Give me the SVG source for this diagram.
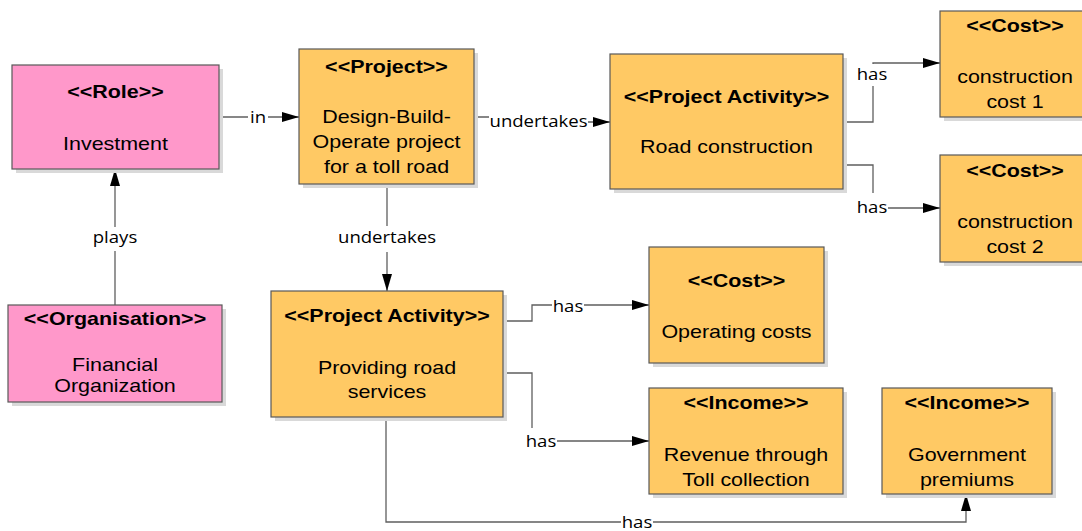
<svg xmlns="http://www.w3.org/2000/svg" width="1082" height="531" viewBox="0 0 1082 531">
  <style>
    .shadow { fill: #d9d9d9; }
    .box { stroke: #595959; stroke-width: 1.2; }
    .role { fill: #ff98ca; }
    .item { fill: #ffc964; }
    .st { font-family: "Liberation Sans", Arial, sans-serif; font-size: 18.5px; font-weight: bold; fill: #000; text-anchor: middle; }
    .tx { font-family: "Liberation Sans", Arial, sans-serif; font-size: 18.5px; fill: #000; text-anchor: middle; }
    .conn { fill: none; stroke: #5f5f5f; stroke-width: 1.3; }
    .lblbg { fill: #fff; }
    .lbl { font-family: "Open Sans", "Noto Sans", sans-serif; font-size: 16px; fill: #000; text-anchor: middle; }
  </style>
  <defs>
    <marker id="arrow" markerUnits="userSpaceOnUse" markerWidth="18" markerHeight="11" refX="17" refY="5" orient="auto">
      <path d="M0,0 L17,5 L0,10 z" fill="#000"/>
    </marker>
  </defs>
  <rect width="1082" height="531" fill="#fff"/>

  <!-- connectors -->
  <g id="connectors">
    <path class="conn" d="M219,117 H299" marker-end="url(#arrow)"/>
    <path class="conn" d="M115,305 V169" marker-end="url(#arrow)"/>
    <path class="conn" d="M474,117 H538 V122 H610" marker-end="url(#arrow)"/>
    <path class="conn" d="M387,184 V291" marker-end="url(#arrow)"/>
    <path class="conn" d="M843,122 H873 V63 H940" marker-end="url(#arrow)"/>
    <path class="conn" d="M843,165 H873 V208 H940" marker-end="url(#arrow)"/>
    <path class="conn" d="M503,321 H532 V305 H649" marker-end="url(#arrow)"/>
    <path class="conn" d="M503,373 H532 V441 H649" marker-end="url(#arrow)"/>
    <path class="conn" d="M386,417 V522 H966 V494" marker-end="url(#arrow)"/>

    <!-- labels -->
    <rect class="lblbg" x="248" y="108" width="20" height="18"/>
    <text class="lbl" transform="matrix(1.16 0 0 1 258 123)">in</text>
    <rect class="lblbg" x="105" y="227" width="21" height="24"/>
    <text class="lbl" transform="matrix(1.16 0 0 1 115 243)">plays</text>
    <rect class="lblbg" x="489" y="110" width="99" height="20"/>
    <text class="lbl" transform="matrix(1.16 0 0 1 538.5 127)">undertakes</text>
    <rect class="lblbg" x="337" y="226" width="100" height="26"/>
    <text class="lbl" transform="matrix(1.16 0 0 1 387 243)">undertakes</text>
    <rect class="lblbg" x="856" y="64" width="32" height="22"/>
    <text class="lbl" transform="matrix(1.16 0 0 1 872 80)">has</text>
    <rect class="lblbg" x="856" y="193" width="32" height="24"/>
    <text class="lbl" transform="matrix(1.16 0 0 1 872 213)">has</text>
    <rect class="lblbg" x="552" y="297" width="32" height="18"/>
    <text class="lbl" transform="matrix(1.16 0 0 1 568 312)">has</text>
    <rect class="lblbg" x="525" y="428" width="32" height="22"/>
    <text class="lbl" transform="matrix(1.16 0 0 1 541 447)">has</text>
    <rect class="lblbg" x="621" y="513" width="32" height="17"/>
    <text class="lbl" transform="matrix(1.16 0 0 1 637 527.5)">has</text>
  </g>

  <!-- Role: Investment -->
  <g id="role-investment">
    <rect class="shadow" x="16" y="69" width="207" height="104"/>
    <rect class="box role" x="12" y="65" width="207" height="104"/>
    <text class="st" transform="matrix(1.16 0 0 1 115.5 98)">&lt;&lt;Role&gt;&gt;</text>
    <text class="tx" transform="matrix(1.16 0 0 1 115.5 150)">Investment</text>
  </g>

  <!-- Organisation: Financial Organization -->
  <g id="org-financial">
    <rect class="shadow" x="12" y="309" width="214" height="97"/>
    <rect class="box role" x="8" y="305" width="214" height="97"/>
    <text class="st" transform="matrix(1.16 0 0 1 115 325)">&lt;&lt;Organisation&gt;&gt;</text>
    <text class="tx" transform="matrix(1.16 0 0 1 115 371)">Financial</text>
    <text class="tx" transform="matrix(1.16 0 0 1 115 392)">Organization</text>
  </g>

  <!-- Project -->
  <g id="project-dbo">
    <rect class="shadow" x="303" y="53" width="175" height="135"/>
    <rect class="box item" x="299" y="49" width="175" height="135"/>
    <text class="st" transform="matrix(1.16 0 0 1 386.5 73)">&lt;&lt;Project&gt;&gt;</text>
    <text class="tx" transform="matrix(1.16 0 0 1 386.5 123)">Design-Build-</text>
    <text class="tx" transform="matrix(1.16 0 0 1 386.5 148)">Operate project</text>
    <text class="tx" transform="matrix(1.16 0 0 1 386.5 173)">for a toll road</text>
  </g>

  <!-- Project Activity: Road construction -->
  <g id="activity-road-construction">
    <rect class="shadow" x="614" y="58" width="233" height="135"/>
    <rect class="box item" x="610" y="54" width="233" height="135"/>
    <text class="st" transform="matrix(1.16 0 0 1 726.5 103)">&lt;&lt;Project Activity&gt;&gt;</text>
    <text class="tx" transform="matrix(1.16 0 0 1 726.5 153)">Road construction</text>
  </g>

  <!-- Cost: construction cost 1 -->
  <g id="cost-construction-1">
    <rect class="shadow" x="944" y="15" width="150" height="106"/>
    <rect class="box item" x="940" y="11" width="150" height="106"/>
    <text class="st" transform="matrix(1.16 0 0 1 1015 32)">&lt;&lt;Cost&gt;&gt;</text>
    <text class="tx" transform="matrix(1.16 0 0 1 1015 83)">construction</text>
    <text class="tx" transform="matrix(1.16 0 0 1 1015 108)">cost 1</text>
  </g>

  <!-- Cost: construction cost 2 -->
  <g id="cost-construction-2">
    <rect class="shadow" x="944" y="159" width="150" height="107"/>
    <rect class="box item" x="940" y="155" width="150" height="107"/>
    <text class="st" transform="matrix(1.16 0 0 1 1015 177)">&lt;&lt;Cost&gt;&gt;</text>
    <text class="tx" transform="matrix(1.16 0 0 1 1015 228)">construction</text>
    <text class="tx" transform="matrix(1.16 0 0 1 1015 253)">cost 2</text>
  </g>

  <!-- Project Activity: Providing road services -->
  <g id="activity-road-services">
    <rect class="shadow" x="275" y="295" width="232" height="126"/>
    <rect class="box item" x="271" y="291" width="232" height="126"/>
    <text class="st" transform="matrix(1.16 0 0 1 387 322)">&lt;&lt;Project Activity&gt;&gt;</text>
    <text class="tx" transform="matrix(1.16 0 0 1 387 374)">Providing road</text>
    <text class="tx" transform="matrix(1.16 0 0 1 387 398)">services</text>
  </g>

  <!-- Cost: Operating costs -->
  <g id="cost-operating">
    <rect class="shadow" x="653" y="251" width="175" height="116"/>
    <rect class="box item" x="649" y="247" width="175" height="116"/>
    <text class="st" transform="matrix(1.16 0 0 1 736.5 287)">&lt;&lt;Cost&gt;&gt;</text>
    <text class="tx" transform="matrix(1.16 0 0 1 736.5 338)">Operating costs</text>
  </g>

  <!-- Income: Revenue through Toll collection -->
  <g id="income-toll">
    <rect class="shadow" x="653" y="392" width="194" height="106"/>
    <rect class="box item" x="649" y="388" width="194" height="106"/>
    <text class="st" transform="matrix(1.16 0 0 1 746 409)">&lt;&lt;Income&gt;&gt;</text>
    <text class="tx" transform="matrix(1.16 0 0 1 746 461)">Revenue through</text>
    <text class="tx" transform="matrix(1.16 0 0 1 746 486)">Toll collection</text>
  </g>

  <!-- Income: Government premiums -->
  <g id="income-government">
    <rect class="shadow" x="886" y="392" width="170" height="106"/>
    <rect class="box item" x="882" y="388" width="170" height="106"/>
    <text class="st" transform="matrix(1.16 0 0 1 967 409)">&lt;&lt;Income&gt;&gt;</text>
    <text class="tx" transform="matrix(1.16 0 0 1 967 461)">Government</text>
    <text class="tx" transform="matrix(1.16 0 0 1 967 486)">premiums</text>
  </g>
</svg>
